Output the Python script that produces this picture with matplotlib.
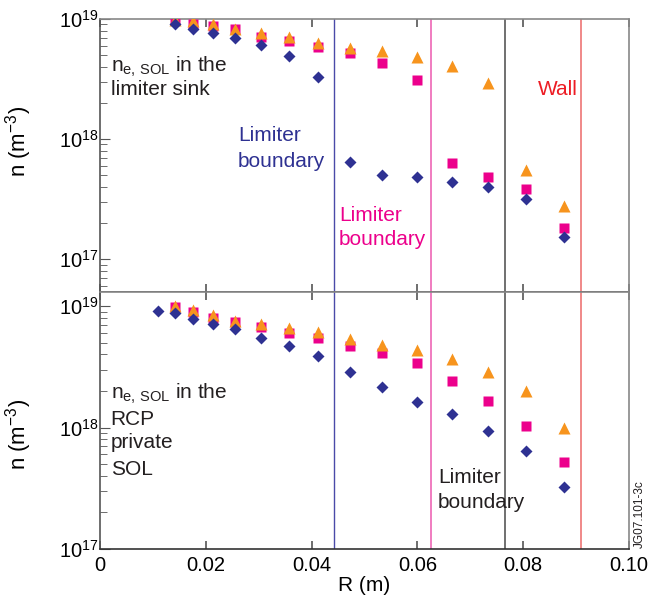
import matplotlib
matplotlib.use("Agg")
import matplotlib.pyplot as plt
import numpy as np

plt.rcParams['font.family'] = ['Liberation Sans', 'DejaVu Sans']
plt.rcParams['mathtext.fontset'] = 'custom'
plt.rcParams['mathtext.rm'] = 'Liberation Sans'
plt.rcParams['mathtext.it'] = 'Liberation Sans:italic'

# radial positions (m)
r_top = [0.0141, 0.0176, 0.0214, 0.0256, 0.0305, 0.0358, 0.0413,
         0.0473, 0.0534, 0.0599, 0.0666, 0.0734, 0.0806, 0.0877]
r_bot = [0.0109] + r_top

# log10 density, top panel (limiter sink)
top_diam = [18.96, 18.92, 18.88, 18.84, 18.78, 18.69, 18.52,
            17.81, 17.70, 17.68, 17.64, 17.60, 17.50, 17.18]
top_sq = [18.99, 18.96, 18.94, 18.92, 18.85, 18.82, 18.77,
          18.72, 18.63, 18.49, 17.80, 17.68, 17.58, 17.26]
top_tri = [18.99, 18.98, 18.96, 18.92, 18.88, 18.85, 18.80,
           18.76, 18.73, 18.68, 18.61, 18.47, 17.74, 17.44]

# log10 density, bottom panel (RCP private SOL)
bot_diam = [18.96, 18.94, 18.89, 18.85, 18.81, 18.74, 18.67, 18.59,
            18.46, 18.33, 18.21, 18.11, 17.97, 17.81, 17.51]
bot_sq = [18.99, 18.95, 18.90, 18.87, 18.83, 18.78, 18.74,
          18.67, 18.61, 18.53, 18.38, 18.22, 18.01, 17.72]
bot_tri = [19.0, 18.97, 18.93, 18.88, 18.85, 18.82, 18.79,
           18.73, 18.68, 18.64, 18.56, 18.46, 18.30, 18.00]

# boundaries (m)
vlines = [(0.0442, '#4a4aa8', 1.0), (0.0626, '#f07cc0', 1.4),
          (0.0766, '#707070', 1.4), (0.0910, '#f08888', 1.4)]

c_diam = '#2e3192'
c_sq = '#ec008c'
c_tri = '#f7941d'

fig = plt.figure(figsize=(6.5, 6.01), dpi=100)
ax1 = fig.add_axes([0.1538, 0.5141, 0.8139, 0.4543])
ax2 = fig.add_axes([0.1538, 0.0865, 0.8139, 0.4276])


def plot_panel(ax, r_sq, sq, r_tri, tri, r_d, d):
    ax.set_yscale('log')
    for x, c, lw in vlines:
        ax.axvline(x, color=c, lw=lw, zorder=1)
    ax.plot(r_sq, 10 ** np.array(sq), 's', color=c_sq, ms=7.8, mec='none', zorder=3)
    ax.plot(r_tri, 10 ** np.array(tri), '^', color=c_tri, ms=9, mec='none', zorder=4)
    ax.plot(r_d, 10 ** np.array(d), 'D', color=c_diam, ms=6.6, mec='none', zorder=5)
    ax.set_xlim(0, 0.10)
    ax.set_xticks([0, 0.02, 0.04, 0.06, 0.08, 0.10])
    ax.set_yticks([1e17, 1e18, 1e19])
    ax.set_yticklabels(['$10^{17}$', '$10^{18}$', '$10^{19}$'])
    ax.tick_params(axis='both', which='both', direction='in', labelsize=14.5,
                   color='#555555')
    ax.tick_params(axis='y', which='major', length=7, pad=1)
    ax.tick_params(axis='y', which='minor', length=5)
    ax.tick_params(axis='x', which='major', length=6, top=True, width=1.2, pad=5)
    ax.set_ylabel('n (m$^{-3}$)', fontsize=16)
    ax.spines['left'].set_color('#555555')
    ax.spines['right'].set_color('#888888')
    ax.spines['top'].set_color('#888888')
    ax.spines['bottom'].set_color('#333333')
    for s in ax.spines.values():
        s.set_linewidth(1.2)


plot_panel(ax1, r_top, top_sq, r_top, top_tri, r_top, top_diam)
plot_panel(ax2, r_bot[1:], bot_sq, r_bot[1:], bot_tri, r_bot, bot_diam)

ax1.set_ylim(10 ** 16.725, 1e19)
ax1.tick_params(axis='x', labelbottom=False)
ax2.set_ylim(1e17, 10 ** 19.115)
ax2.set_xticklabels(['0', '0.02', '0.04', '0.06', '0.08', '0.10'])
ax2.set_xlabel('R (m)', fontsize=15, labelpad=1)
ax1.yaxis.set_label_coords(-0.125, 0.55)
ax2.yaxis.set_label_coords(-0.125, 0.445)

fs = 15
# top panel texts
ax1.text(0.002, 10 ** 18.558, 'n$_{\\mathrm{e,\\,SOL}}$ in the', fontsize=fs, color='#231f20')
ax1.text(0.002, 10 ** 18.367, 'limiter sink', fontsize=fs, color='#231f20')
ax1.text(0.0261, 10 ** 17.98, 'Limiter', fontsize=fs, color='#2e3192')
ax1.text(0.0261, 10 ** 17.77, 'boundary', fontsize=fs, color='#2e3192')
ax1.text(0.0452, 10 ** 17.32, 'Limiter', fontsize=fs, color='#ec008c')
ax1.text(0.0452, 10 ** 17.12, 'boundary', fontsize=fs, color='#ec008c')
ax1.text(0.0827, 10 ** 18.37, 'Wall', fontsize=fs, color='#ed1c24')

# bottom panel texts
ax2.text(0.002, 10 ** 18.24, 'n$_{\\mathrm{e,\\,SOL}}$ in the', fontsize=fs, color='#231f20')
ax2.text(0.002, 10 ** 18.02, 'RCP', fontsize=fs, color='#231f20')
ax2.text(0.002, 10 ** 17.83, 'private', fontsize=fs, color='#231f20')
ax2.text(0.002, 10 ** 17.61, 'SOL', fontsize=fs, color='#231f20')
ax2.text(0.0639, 10 ** 17.54, 'Limiter', fontsize=fs, color='#231f20')
ax2.text(0.0639, 10 ** 17.335, 'boundary', fontsize=fs, color='#231f20')

fig.text(0.985, 0.088, 'JG07.101-3c', rotation=90, fontsize=8.5, ha='center',
         va='bottom', color='#231f20')

fig.savefig('out.png', dpi=100)
